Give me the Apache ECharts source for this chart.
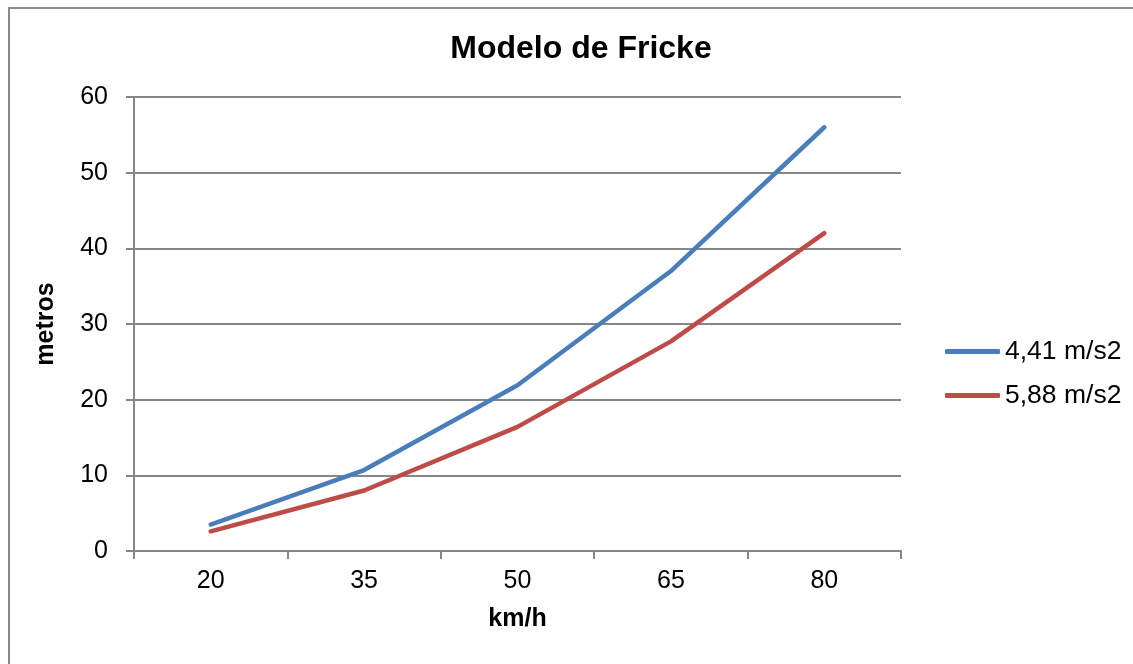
<!DOCTYPE html>
<html>
<head>
<meta charset="utf-8">
<script src="https://cdn.jsdelivr.net/npm/echarts@6/dist/echarts.min.js"></script>
<style>
html,body{margin:0;padding:0;background:#fff;overflow:hidden;}
#chart{width:1133px;height:664px;}
</style>
</head>
<body>
<div id="chart"></div>
<script>
const categories = ['20', '35', '50', '65', '80'];
const series441 = [3.5, 10.7, 21.9, 37.0, 56.0];
const series588 = [2.6, 8.0, 16.4, 27.7, 42.0];
const seriesNames = ['4,41 m/s2', '5,88 m/s2'];
const titleText = 'Modelo de Fricke';
const xName = 'km/h';
const yName = 'metros';

const FONT = '"Liberation Sans", Arial, sans-serif';
const GREY = '#868686';

const chart = echarts.init(document.getElementById('chart'), null, {renderer: 'canvas'});
chart.setOption({
  animation: false,
  backgroundColor: '#fff',
  title: {
    text: titleText,
    left: 576,
    top: 28,
    textAlign: 'center',
    textStyle: {fontFamily: FONT, fontSize: 32, fontWeight: 'bold', color: '#000'}
  },
  graphic: [
    {
      type: 'polyline',
      shape: {points: [[9, 700], [9, 8], [1200, 8]]},
      style: {fill: null, stroke: '#898989', lineWidth: 2},
      silent: true,
      z: -1
    }
  ],
  legend: {
    orient: 'vertical',
    left: 940,
    top: 333,
    icon: 'roundRect',
    itemWidth: 55,
    itemHeight: 5,
    itemGap: 17,
    textStyle: {fontFamily: FONT, fontSize: 26.5, color: '#000', lineHeight: 27},
    data: seriesNames
  },
  grid: {left: 134, right: 232, top: 97, bottom: 113, containLabel: false},
  xAxis: {
    type: 'category',
    data: categories,
    boundaryGap: true,
    name: xName,
    nameLocation: 'middle',
    nameGap: 56,
    nameTextStyle: {fontFamily: FONT, fontSize: 25, fontWeight: 'bold', color: '#000'},
    axisLine: {lineStyle: {color: GREY, width: 2}},
    axisTick: {show: true, length: 8, lineStyle: {color: GREY, width: 2}},
    axisLabel: {fontFamily: FONT, fontSize: 25, color: '#000', margin: 18}
  },
  yAxis: {
    type: 'value',
    min: 0,
    max: 60,
    interval: 10,
    name: yName,
    nameLocation: 'middle',
    nameGap: 75,
    nameTextStyle: {fontFamily: FONT, fontSize: 25, fontWeight: 'bold', color: '#000'},
    axisLine: {show: true, lineStyle: {color: GREY, width: 2}},
    axisTick: {show: true, length: 8, lineStyle: {color: GREY, width: 2}},
    axisLabel: {fontFamily: FONT, fontSize: 25, color: '#000', margin: 26},
    splitLine: {lineStyle: {color: GREY, width: 2}}
  },
  series: [
    {
      name: seriesNames[0],
      type: 'line',
      data: series441,
      symbol: 'none',
      lineStyle: {color: '#4A7EBB', width: 4.5, cap: 'round', join: 'round'},
      itemStyle: {color: '#4A7EBB'}
    },
    {
      name: seriesNames[1],
      type: 'line',
      data: series588,
      symbol: 'none',
      lineStyle: {color: '#BE4B48', width: 4.5, cap: 'round', join: 'round'},
      itemStyle: {color: '#BE4B48'}
    }
  ]
});
</script>
</body>
</html>
